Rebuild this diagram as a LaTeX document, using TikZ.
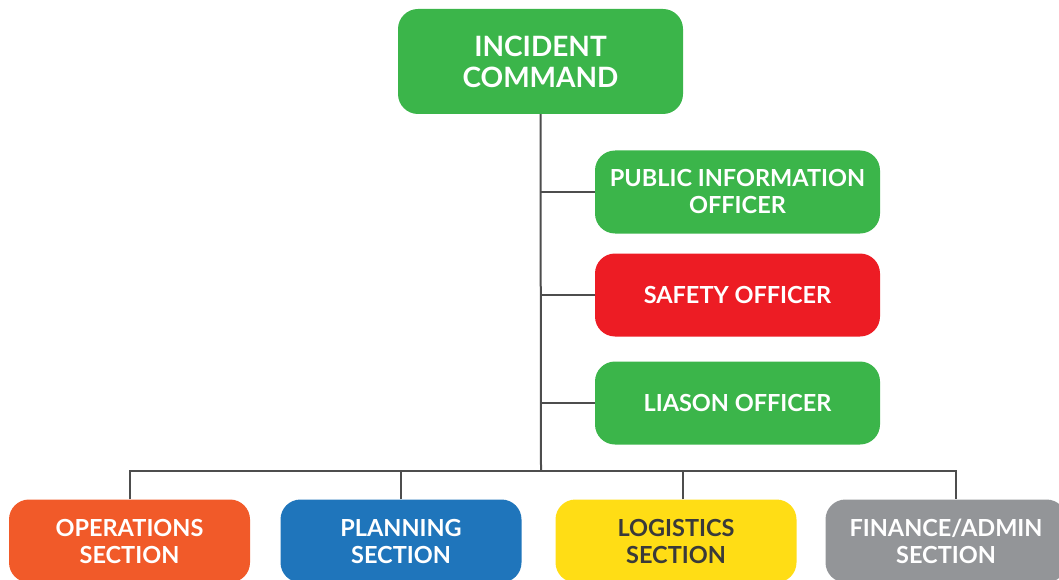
\documentclass[tikz,border=0pt]{standalone}
\usepackage{fontspec}
\setmainfont{Lato}[UprightFont=* Bold]
\usepackage{xcolor}
\usetikzlibrary{positioning,calc}

\definecolor{icsGreen}{HTML}{3BB54A}
\definecolor{icsRed}{HTML}{ED1C24}
\definecolor{icsOrange}{HTML}{F15A29}
\definecolor{icsBlue}{HTML}{1F75BB}
\definecolor{icsYellow}{HTML}{FFDD15}
\definecolor{icsGray}{HTML}{939598}
\definecolor{icsLine}{HTML}{4D4D4D}
\definecolor{icsDark}{HTML}{3A3A3A}

\begin{document}
\begin{tikzpicture}[x=1pt, y=-1pt,
    ics block/.style={rectangle, rounded corners=20pt, inner sep=0pt, align=center, text=white,
        font=\fontsize{23.5}{27}\selectfont},
    staff block/.style={ics block, minimum width=285pt, minimum height=83pt, fill=icsGreen},
    section block/.style={ics block, minimum width=241pt, minimum height=83pt},
    ics line/.style={draw=icsLine, line width=2pt}]
    \useasboundingbox (0,0) rectangle (1059,580);

    \node[ics block, fill=icsGreen, minimum width=285pt, minimum height=105pt,
        font=\fontsize{28}{31}\selectfont] (cmd) at (540.5,61.5) {INCIDENT\\COMMAND};

    % command staff
    \node[staff block] (pio) at (737.5,192) {PUBLIC INFORMATION\\OFFICER};
    \node[staff block, fill=icsRed] (safety) at (737.5,295) {SAFETY OFFICER};
    \node[staff block] (liaison) at (737.5,403) {LIASON OFFICER};

    % general staff
    \node[section block, fill=icsOrange] (ops) at (129.5,541) {OPERATIONS\\SECTION};
    \node[section block, fill=icsBlue] (plan) at (401,541) {PLANNING\\SECTION};
    \node[section block, fill=icsYellow, text=icsDark] (log) at (676,541) {LOGISTICS\\SECTION};
    \node[section block, fill=icsGray] (fin) at (946,541) {FINANCE/ADMIN\\SECTION};

    \coordinate (hub) at (541,471);

    \draw[ics line] (cmd.south) -- (hub);
    \draw[ics line] (pio.west) -- (pio.west -| hub);
    \draw[ics line] (safety.west) -- (safety.west -| hub);
    \draw[ics line] (liaison.west) -- (liaison.west -| hub);

    \draw[ics line] (ops.north) -- (ops.north |- hub) -- ([xshift=10pt]fin.north |- hub) -- ([xshift=10pt]fin.north);
    \draw[ics line] (plan.north) -- (plan.north |- hub);
    \draw[ics line] ([xshift=7pt]log.north) -- ([xshift=7pt]log.north |- hub);
\end{tikzpicture}
\end{document}
